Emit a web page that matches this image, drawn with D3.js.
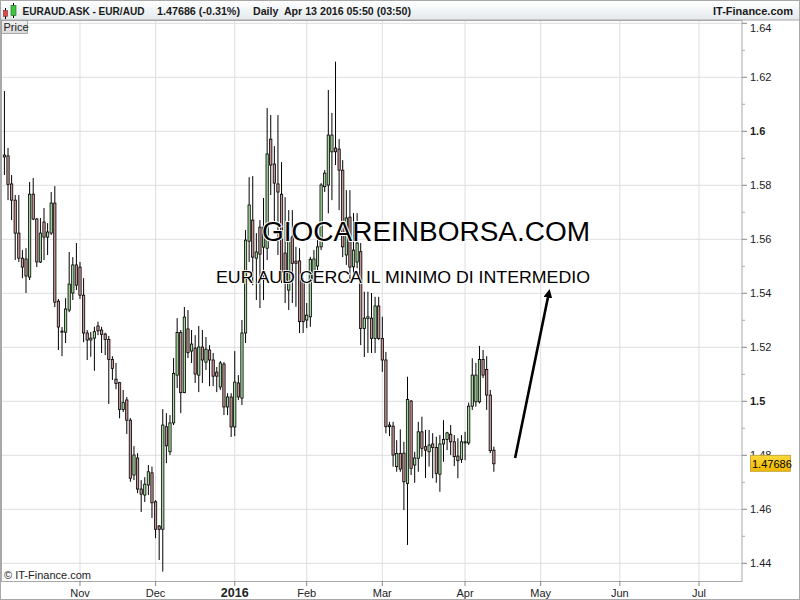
<!DOCTYPE html>
<html><head><meta charset="utf-8">
<script src="https://cdn.jsdelivr.net/npm/d3@7"></script>
<style>
body{margin:0;background:#fff}
svg{display:block;font-family:"Liberation Sans",Arial,Helvetica,sans-serif}
text{white-space:pre}
</style>
</head><body>
<svg id="chart" width="800" height="600"></svg>
<script>
// ---------------- DATA ----------------
const headerSymbol = "EURAUD.ASK - EUR/AUD";
const headerQuote = "1.47686 (-0.31%)";
const headerDate = "Daily  Apr 13 2016 05:50 (03:50)";
const headerBrand = "IT-Finance.com";
const copyright = "\u00A9 IT-Finance.com";
const titleText = "GIOCAREINBORSA.COM";
const subtitleText = "EUR AUD CERCA IL MINIMO DI INTERMEDIO";

const calendarStart = "2015-10-01";
const calendarEnd = "2016-07-29";
const holidays = ["2015-12-25", "2016-01-01"];
const firstCandleDate = "2015-10-02";
const monthLabels = ["Nov", "Dec", "2016", "Feb", "Mar", "Apr", "May", "Jun", "Jul"];
const boldMonthLabels = ["2016"];
const yTicks = [1.44, 1.46, 1.48, 1.5, 1.52, 1.54, 1.56, 1.58, 1.6, 1.62, 1.64];
const yTickLabels = ["1.44", "1.46", "1.48", "1.5", "1.52", "1.54", "1.56", "1.58", "1.6", "1.62", "1.64"];
const yBoldTicks = ["1.5", "1.6"];
const yMinorTicks = [1.45, 1.47, 1.49, 1.51, 1.53, 1.55, 1.57, 1.59, 1.61, 1.63];
const lastPrice = 1.47686;
const lastPriceLabel = "1.47686";

const opens = [1.5912,1.5909,1.5805,1.5745,1.5623,1.5530,1.5527,1.5460,1.5767,1.5675,
1.5516,1.5664,1.5608,1.5623,1.5734,1.5371,1.5260,1.5256,1.5338,1.5401,
1.5505,1.5497,1.5393,1.5253,1.5227,1.5234,1.5279,1.5264,1.5249,1.5229,
1.5155,1.5082,1.5069,1.4970,1.5005,1.4930,1.4727,1.4790,1.4675,1.4653,
1.4690,1.4735,1.4628,1.4538,1.4526,1.4906,1.4813,1.4920,1.5097,1.5255,
1.5032,1.5268,1.5186,1.5197,1.5097,1.5201,1.5145,1.5190,1.5153,1.5108,
1.5053,1.5138,1.4979,1.5016,1.4905,1.5068,1.5012,1.5253,1.5593,1.5671,
1.5530,1.5645,1.5571,1.5567,1.5971,1.5879,1.5805,1.5767,1.5549,1.5412,
1.5609,1.5519,1.5520,1.5443,1.5301,1.5313,1.5449,1.5501,1.5572,1.5795,
1.5801,1.5924,1.5938,1.5934,1.5856,1.5542,1.5682,1.5498,1.5516,1.5554,
1.5270,1.5307,1.5308,1.5233,1.5353,1.5233,1.5153,1.4912,1.4908,1.4758,
1.4807,1.4808,1.4696,1.5001,1.4764,1.4789,1.4887,1.4832,1.4813,1.4842,
1.4829,1.4730,1.4842,1.4859,1.4878,1.4850,1.4797,1.4785,1.4846,1.4846,
1.4982,1.4998,1.4998,1.5155,1.5118,1.5023,1.4819];
const highs = [1.6149,1.5938,1.5838,1.5764,1.5764,1.5560,1.5567,1.5812,1.5827,1.5679,
1.5679,1.5716,1.5660,1.5775,1.5797,1.5379,1.5275,1.5382,1.5553,1.5534,
1.5586,1.5516,1.5456,1.5264,1.5257,1.5276,1.5295,1.5276,1.5254,1.5242,
1.5167,1.5142,1.5072,1.5042,1.5016,1.4938,1.4834,1.4808,1.4708,1.4719,
1.4764,1.4758,1.4634,1.4542,1.4971,1.4956,1.4949,1.5160,1.5308,1.5264,
1.5349,1.5338,1.5264,1.5245,1.5279,1.5264,1.5238,1.5208,1.5179,1.5127,
1.5149,1.5145,1.5030,1.5030,1.5186,1.5097,1.5301,1.5634,1.5830,1.5834,
1.5623,1.5671,1.5753,1.6086,1.6060,1.5945,1.6060,1.5886,1.5756,1.5708,
1.5708,1.5572,1.5567,1.5456,1.5364,1.5535,1.5560,1.5628,1.5808,1.5856,
1.6153,1.6068,1.6258,1.5971,1.5893,1.5782,1.5782,1.5697,1.5697,1.5586,
1.5406,1.5406,1.5401,1.5387,1.5387,1.5313,1.5183,1.4924,1.4924,1.4856,
1.4896,1.4850,1.5091,1.5005,1.4813,1.4924,1.4943,1.4894,1.4894,1.4882,
1.4869,1.4875,1.4930,1.4887,1.4912,1.4875,1.4863,1.4875,1.4887,1.4995,
1.5159,1.5142,1.5205,1.5190,1.5167,1.5042,1.4832];
const lows = [1.5838,1.5745,1.5671,1.5523,1.5516,1.5456,1.5401,1.5449,1.5671,1.5497,
1.5512,1.5523,1.5542,1.5616,1.5349,1.5190,1.5167,1.5216,1.5330,1.5375,
1.5412,1.5379,1.5219,1.5153,1.5165,1.5113,1.5245,1.5179,1.5171,1.4990,
1.5079,1.5045,1.4937,1.4960,1.4879,1.4702,1.4708,1.4660,1.4590,1.4627,
1.4653,1.4568,1.4493,1.4412,1.4369,1.4771,1.4801,1.4912,1.5049,1.4956,
1.5030,1.5160,1.5142,1.5068,1.5034,1.5068,1.5116,1.5056,1.5056,1.5034,
1.5042,1.4949,1.4949,1.4868,1.4871,1.5005,1.4986,1.5216,1.5516,1.5430,
1.5375,1.5345,1.5375,1.5523,1.5764,1.5653,1.5542,1.5438,1.5364,1.5338,
1.5364,1.5350,1.5253,1.5253,1.5271,1.5276,1.5438,1.5486,1.5560,1.5775,
1.5696,1.5745,1.5875,1.5708,1.5534,1.5505,1.5438,1.5449,1.5493,1.5208,
1.5164,1.5179,1.5179,1.5179,1.5227,1.5109,1.4881,1.4871,1.4758,1.4739,
1.4739,1.4597,1.4468,1.4727,1.4698,1.4739,1.4795,1.4716,1.4758,1.4715,
1.4698,1.4665,1.4776,1.4819,1.4801,1.4760,1.4715,1.4772,1.4782,1.4838,
1.4968,1.4980,1.4992,1.5086,1.4968,1.4808,1.4739];
const closes = [1.5905,1.5803,1.5745,1.5623,1.5530,1.5497,1.5464,1.5767,1.5675,1.5516,
1.5623,1.5608,1.5627,1.5734,1.5367,1.5275,1.5256,1.5342,1.5434,1.5505,
1.5430,1.5393,1.5253,1.5227,1.5234,1.5258,1.5261,1.5248,1.5229,1.5155,
1.5122,1.5066,1.4970,1.4995,1.4930,1.4715,1.4801,1.4675,1.4656,1.4693,
1.4739,1.4624,1.4526,1.4526,1.4912,1.4835,1.4920,1.5103,1.5255,1.5032,
1.5312,1.5180,1.5212,1.5101,1.5201,1.5153,1.5193,1.5153,1.5093,1.5093,
1.5142,1.4979,1.5016,1.4905,1.5071,1.5016,1.5253,1.5597,1.5727,1.5534,
1.5553,1.5545,1.5645,1.5916,1.5875,1.5808,1.5775,1.5479,1.5449,1.5604,
1.5511,1.5511,1.5295,1.5295,1.5319,1.5526,1.5527,1.5572,1.5801,1.5845,
1.5986,1.5986,1.5924,1.5856,1.5572,1.5679,1.5497,1.5560,1.5586,1.5270,
1.5308,1.5313,1.5233,1.5353,1.5233,1.5153,1.4906,1.4906,1.4801,1.4807,
1.4749,1.4702,1.5007,1.4752,1.4790,1.4887,1.4826,1.4819,1.4838,1.4829,
1.4733,1.4842,1.4859,1.4883,1.4850,1.4795,1.4780,1.4850,1.4850,1.4982,
1.5097,1.5097,1.5155,1.5097,1.5023,1.4817,1.47686];

// annotation arrow in data coordinates: [tradingDayIndex, price]
const arrowFrom = [142.9, 1.4790];
const arrowTo = [152.1, 1.5390];
const titleAnchor = [72.6, 1.5593, 163.7];     // start index, baseline price, end index
const subtitleAnchor = [59.8, 1.5438, 163.7];

// ---------------- LAYOUT ----------------
const W = 800, H = 600;
const plot = {left: 2, right: 742, top: 20, bottom: 581};
const svg = d3.select("#chart");

// trading calendar (weekdays minus holidays)
const fmt = d3.utcFormat("%Y-%m-%d");
const tradingDays = d3.utcDay.range(new Date(calendarStart + "T00:00:00Z"), d3.utcDay.offset(new Date(calendarEnd + "T00:00:00Z"), 1))
  .filter(d => d.getUTCDay() !== 0 && d.getUTCDay() !== 6 && !holidays.includes(fmt(d)));
const startIdx = tradingDays.findIndex(d => fmt(d) === firstCandleDate);
const monthStarts = [];
tradingDays.forEach((d, i) => { if (i > 0 && d.getUTCMonth() !== tradingDays[i - 1].getUTCMonth()) monthStarts.push(i); });

const x = d3.scaleLinear().domain([0, 206]).range([0.82, 742.2]);
const y = d3.scaleLinear().domain([1.44, 1.64]).range([563.3, 23.3]);

// defs
const defs = svg.append("defs");
const hg = defs.append("linearGradient").attr("id", "hdr").attr("x1", 0).attr("y1", 0).attr("x2", 0).attr("y2", 1);
hg.append("stop").attr("offset", "0%").attr("stop-color", "#ffffff");
hg.append("stop").attr("offset", "100%").attr("stop-color", "#e3e9ec");
const pg = defs.append("linearGradient").attr("id", "pricebox").attr("x1", 0).attr("y1", 0).attr("x2", 0).attr("y2", 1);
pg.append("stop").attr("offset", "0%").attr("stop-color", "#ffd93a");
pg.append("stop").attr("offset", "100%").attr("stop-color", "#f0b800");
const lg = defs.append("linearGradient").attr("id", "plabel").attr("x1", 0).attr("y1", 0).attr("x2", 0).attr("y2", 1);
lg.append("stop").attr("offset", "0%").attr("stop-color", "#f2f2f2");
lg.append("stop").attr("offset", "100%").attr("stop-color", "#d8d8d8");
defs.append("clipPath").attr("id", "clip").append("rect")
  .attr("x", plot.left).attr("y", plot.top).attr("width", plot.right - plot.left).attr("height", plot.bottom - plot.top);
defs.append("marker").attr("id", "arrowhead").attr("viewBox", "0 0 10 10").attr("refX", 2).attr("refY", 5)
  .attr("markerWidth", 3.4).attr("markerHeight", 3.4).attr("orient", "auto")
  .append("path").attr("d", "M0,0 L10,5 L0,10 z").attr("fill", "#000");

svg.append("rect").attr("width", W).attr("height", H).attr("fill", "#fff");

// gridlines
const grid = svg.append("g").attr("clip-path", "url(#clip)");
grid.selectAll(".hg").data(yTicks).join("line")
  .attr("x1", plot.left).attr("x2", plot.right).attr("y1", d => y(d)).attr("y2", d => y(d))
  .attr("stroke", "#dedede").attr("stroke-width", 1);
grid.selectAll(".vg").data(monthStarts).join("line")
  .attr("x1", d => x(d)).attr("x2", d => x(d)).attr("y1", plot.top).attr("y2", plot.bottom)
  .attr("stroke", "#dedede").attr("stroke-width", 1);

// candles
const candles = opens.map((o, k) => ({i: startIdx + k, o, h: highs[k], l: lows[k], c: closes[k]}));
const cg = svg.append("g").attr("clip-path", "url(#clip)");
cg.selectAll(".wick").data(candles).join("line")
  .attr("x1", d => x(d.i)).attr("x2", d => x(d.i)).attr("y1", d => y(d.h)).attr("y2", d => y(d.l))
  .attr("stroke", "#000").attr("stroke-width", 1);
cg.selectAll(".body").data(candles).join("rect")
  .attr("x", d => x(d.i) - 1.15).attr("width", 2.3)
  .attr("y", d => y(Math.max(d.o, d.c)))
  .attr("height", d => Math.max(0.8, Math.abs(y(d.o) - y(d.c))))
  .attr("fill", d => d.c >= d.o ? "#a4d89d" : "#c49494")
  .attr("stroke", "#000").attr("stroke-width", 0.8);

// annotation texts
const ann = svg.append("g");
ann.append("text").attr("x", x(titleAnchor[0])).attr("y", y(titleAnchor[1]))
  .attr("textLength", x(titleAnchor[2]) - x(titleAnchor[0])).attr("lengthAdjust", "spacingAndGlyphs")
  .attr("font-size", 27).attr("fill", "#000").attr("stroke", "#fff").attr("stroke-width", 2)
  .attr("paint-order", "stroke").text(titleText);
ann.append("text").attr("x", x(subtitleAnchor[0])).attr("y", y(subtitleAnchor[1]))
  .attr("textLength", x(subtitleAnchor[2]) - x(subtitleAnchor[0])).attr("lengthAdjust", "spacingAndGlyphs")
  .attr("font-size", 16.5).attr("fill", "#000").attr("stroke", "#fff").attr("stroke-width", 1.6)
  .attr("paint-order", "stroke").text(subtitleText);
ann.append("line")
  .attr("x1", x(arrowFrom[0])).attr("y1", y(arrowFrom[1])).attr("x2", x(arrowTo[0])).attr("y2", y(arrowTo[1]))
  .attr("stroke", "#000").attr("stroke-width", 2.6).attr("marker-end", "url(#arrowhead)");

// plot frame
svg.append("rect").attr("x", plot.left - 0.5).attr("y", plot.top + 0.5)
  .attr("width", plot.right - plot.left + 0.5).attr("height", plot.bottom - plot.top)
  .attr("fill", "none").attr("stroke", "#a8a8a8").attr("stroke-width", 1);

// right axis
const ra = svg.append("g");
ra.selectAll(".mt").data(yTicks).join("line")
  .attr("x1", plot.right).attr("x2", plot.right + 5).attr("y1", d => y(d)).attr("y2", d => y(d))
  .attr("stroke", "#888");
ra.selectAll(".mn").data(yMinorTicks).join("line")
  .attr("x1", plot.right).attr("x2", plot.right + 3).attr("y1", d => y(d)).attr("y2", d => y(d))
  .attr("stroke", "#aaa");
ra.selectAll(".yl").data(yTicks).join("text")
  .attr("x", plot.right + 8).attr("y", d => Math.max(y(d), 28)).attr("dy", "0.36em")
  .attr("font-size", 11).attr("fill", "#222")
  .attr("font-weight", (d, k) => yBoldTicks.includes(yTickLabels[k]) ? "bold" : "normal")
  .text((d, k) => yTickLabels[k]);

// last price box (covers the lower part of the nearby tick label, as in the original)
const lpY = y(lastPrice);
ra.append("rect").attr("x", 750.5).attr("y", lpY - 8.5).attr("width", 40).attr("height", 16)
  .attr("fill", "url(#pricebox)").attr("stroke", "#b99a2a").attr("stroke-width", 0.8);
ra.append("text").attr("x", 752).attr("y", lpY).attr("dy", "0.36em").attr("font-size", 11)
  .attr("fill", "#000").text(lastPriceLabel);

// bottom axis
const ba = svg.append("g");
ba.selectAll(".xt").data(monthStarts).join("line")
  .attr("x1", d => x(d)).attr("x2", d => x(d)).attr("y1", plot.bottom).attr("y2", plot.bottom + 5)
  .attr("stroke", "#888");
ba.selectAll(".xl").data(monthStarts).join("text")
  .attr("x", d => x(d)).attr("y", 597).attr("text-anchor", "middle")
  .attr("font-size", (d, k) => boldMonthLabels.includes(monthLabels[k]) ? 12.5 : 11)
  .attr("font-weight", (d, k) => boldMonthLabels.includes(monthLabels[k]) ? "bold" : "normal")
  .attr("fill", "#222").text((d, k) => monthLabels[k]);

svg.append("text").attr("x", 4).attr("y", 579).attr("font-size", 11).attr("fill", "#222").text(copyright);

// header
const hd = svg.append("g");
hd.append("rect").attr("x", 0.5).attr("y", 0.5).attr("width", W - 1).attr("height", 19.5)
  .attr("fill", "url(#hdr)").attr("stroke", "#a8a8a8");
// icon: little candles
hd.append("line").attr("x1", 5.5).attr("x2", 5.5).attr("y1", 8).attr("y2", 19).attr("stroke", "#000");
hd.append("rect").attr("x", 3.5).attr("y", 10.5).attr("width", 4).attr("height", 6).attr("fill", "#e04848").attr("stroke", "#703030").attr("stroke-width", 0.6);
hd.append("line").attr("x1", 13.5).attr("x2", 13.5).attr("y1", 3).attr("y2", 18).attr("stroke", "#000");
hd.append("rect").attr("x", 11).attr("y", 5.5).attr("width", 5).attr("height", 10).attr("fill", "#3fc43f").attr("stroke", "#206020").attr("stroke-width", 0.6);
const htxt = (xx, t, len, anchor) => hd.append("text").attr("x", xx).attr("y", 15).attr("font-size", 10.6)
  .attr("font-weight", "bold").attr("fill", "#1a1a1a").attr("text-anchor", anchor || "start")
  .attr("textLength", len).attr("lengthAdjust", "spacingAndGlyphs").text(t);
htxt(22.5, headerSymbol, 122);
htxt(157, headerQuote, 83);
htxt(253, headerDate, 158);
htxt(793, headerBrand, 80, "end");

// "Price" tab
svg.append("rect").attr("x", 1.5).attr("y", 20.5).attr("width", 26).attr("height", 13)
  .attr("fill", "url(#plabel)").attr("stroke", "#9a9a9a").attr("stroke-width", 0.8);
svg.append("text").attr("x", 3.5).attr("y", 31).attr("font-size", 11).attr("fill", "#222").text("Price");

// outer frame
svg.append("rect").attr("x", 0.5).attr("y", 0.5).attr("width", W - 1).attr("height", H - 1)
  .attr("fill", "none").attr("stroke", "#a8a8a8");
</script>
</body></html>
